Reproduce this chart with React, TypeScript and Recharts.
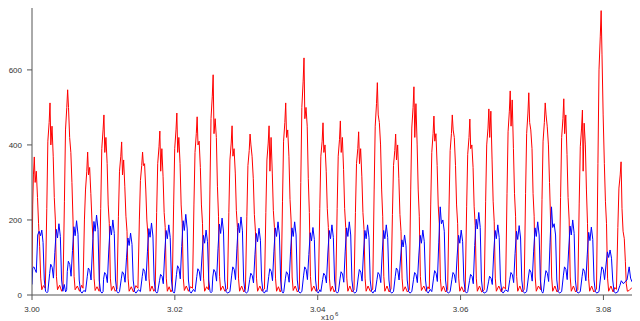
import { LineChart, Line, XAxis, YAxis, Label } from 'recharts';

// time in units of 10^3 (axis shows x10^6), value
const redPoints: [number, number][] = [
  [3000.0, 60], [3000.1, 240], [3000.2, 320], [3000.32, 368], [3000.44, 300], [3000.6, 330], [3000.77, 260], [3000.92, 190], [3001.07, 130], [3001.22, 45], [3001.37, 14], [3001.6, 25],
  [3001.87, 18], [3002.07, 230], [3002.22, 410], [3002.4, 460], [3002.52, 512], [3002.64, 400], [3002.8, 450], [3002.97, 370], [3003.12, 260], [3003.27, 200], [3003.42, 50], [3003.57, 14], [3003.87, 26], [3004.15, 10],
  [3004.34, 20], [3004.54, 250], [3004.69, 440], [3004.87, 500], [3004.99, 547], [3005.11, 500], [3005.27, 420], [3005.44, 380], [3005.59, 300], [3005.74, 200], [3005.89, 50], [3006.04, 14], [3006.35, 24], [3006.65, 10], [3006.95, 26],
  [3007.14, 18], [3007.34, 200], [3007.49, 280], [3007.67, 330], [3007.79, 381], [3007.91, 320], [3008.07, 340], [3008.24, 270], [3008.39, 200], [3008.54, 150], [3008.69, 45], [3008.84, 12], [3009.1, 22], [3009.4, 10],
  [3009.42, 18], [3009.62, 230], [3009.77, 390], [3009.95, 440], [3010.07, 480], [3010.19, 380], [3010.35, 420], [3010.52, 350], [3010.67, 240], [3010.82, 190], [3010.97, 45], [3011.12, 12], [3011.4, 24], [3011.65, 10],
  [3011.9, 16], [3012.1, 210], [3012.25, 330], [3012.43, 370], [3012.55, 408], [3012.67, 320], [3012.83, 360], [3012.99, 290], [3013.15, 210], [3013.3, 170], [3013.45, 45], [3013.6, 10], [3013.9, 22], [3014.2, 8], [3014.55, 25],
  [3014.83, 18], [3015.03, 200], [3015.18, 305], [3015.36, 345], [3015.48, 381], [3015.6, 345], [3015.76, 350], [3015.93, 280], [3016.08, 200], [3016.23, 160], [3016.38, 45], [3016.53, 10], [3016.8, 24], [3017.05, 10],
  [3017.25, 16], [3017.45, 220], [3017.6, 350], [3017.78, 395], [3017.9, 437], [3018.02, 330], [3018.18, 390], [3018.35, 315], [3018.5, 220], [3018.65, 180], [3018.8, 45], [3018.95, 10], [3019.2, 22], [3019.45, 8],
  [3019.63, 15], [3019.83, 240], [3019.98, 390], [3020.16, 440], [3020.28, 485], [3020.4, 380], [3020.56, 420], [3020.73, 350], [3020.88, 240], [3021.03, 190], [3021.18, 45], [3021.33, 12], [3021.6, 24], [3021.9, 10], [3022.2, 22],
  [3022.47, 18], [3022.67, 240], [3022.82, 380], [3023.0, 430], [3023.12, 475], [3023.24, 400], [3023.4, 410], [3023.57, 340], [3023.72, 240], [3023.87, 190], [3024.02, 45], [3024.17, 10], [3024.45, 22],
  [3024.71, 14], [3024.91, 280], [3025.06, 470], [3025.24, 530], [3025.36, 587], [3025.48, 430], [3025.64, 470], [3025.81, 420], [3025.96, 290], [3026.11, 210], [3026.26, 50], [3026.41, 12], [3026.7, 24], [3027.0, 10],
  [3027.36, 16], [3027.56, 220], [3027.71, 360], [3027.89, 405], [3028.01, 451], [3028.13, 370], [3028.29, 390], [3028.46, 325], [3028.61, 225], [3028.76, 180], [3028.91, 45], [3029.06, 10], [3029.35, 24], [3029.65, 8],
  [3029.88, 15], [3030.08, 210], [3030.23, 345], [3030.41, 385], [3030.53, 429], [3030.65, 400], [3030.81, 370], [3030.98, 310], [3031.13, 215], [3031.28, 170], [3031.43, 45], [3031.58, 10], [3031.9, 24], [3032.2, 10],
  [3032.54, 16], [3032.74, 220], [3032.89, 360], [3033.07, 405], [3033.19, 451], [3033.31, 330], [3033.47, 420], [3033.64, 325], [3033.79, 225], [3033.94, 180], [3034.09, 45], [3034.24, 10], [3034.5, 22], [3034.75, 8],
  [3034.87, 14], [3035.07, 250], [3035.22, 410], [3035.4, 460], [3035.52, 512], [3035.64, 420], [3035.8, 440], [3035.97, 370], [3036.12, 255], [3036.27, 200], [3036.42, 48], [3036.57, 12], [3036.85, 24], [3037.15, 8],
  [3037.43, 16], [3037.63, 300], [3037.78, 500], [3037.96, 570], [3038.08, 632], [3038.2, 470], [3038.36, 500], [3038.53, 450], [3038.68, 310], [3038.83, 220], [3038.98, 50], [3039.13, 10], [3039.45, 24], [3039.75, 10],
  [3040.09, 15], [3040.29, 230], [3040.44, 370], [3040.62, 410], [3040.74, 459], [3040.86, 380], [3041.02, 400], [3041.19, 330], [3041.34, 230], [3041.49, 180], [3041.64, 45], [3041.79, 10], [3042.05, 24], [3042.3, 8],
  [3042.52, 16], [3042.72, 230], [3042.87, 370], [3043.05, 415], [3043.17, 464], [3043.29, 380], [3043.45, 420], [3043.62, 335], [3043.77, 230], [3043.92, 180], [3044.07, 45], [3044.22, 10], [3044.5, 24], [3044.8, 8],
  [3045.08, 14], [3045.28, 220], [3045.43, 350], [3045.61, 390], [3045.73, 435], [3045.85, 350], [3046.01, 390], [3046.18, 315], [3046.33, 220], [3046.48, 175], [3046.63, 45], [3046.78, 10], [3047.05, 24], [3047.35, 10],
  [3047.7, 15], [3047.9, 280], [3048.05, 450], [3048.23, 510], [3048.35, 566], [3048.47, 480], [3048.63, 460], [3048.8, 400], [3048.95, 280], [3049.1, 210], [3049.25, 50], [3049.4, 10], [3049.7, 24], [3050.0, 8],
  [3050.26, 16], [3050.46, 215], [3050.61, 345], [3050.79, 385], [3050.91, 429], [3051.03, 360], [3051.19, 400], [3051.36, 310], [3051.51, 215], [3051.66, 170], [3051.81, 45], [3051.96, 10], [3052.25, 22], [3052.55, 8],
  [3052.82, 14], [3053.02, 280], [3053.17, 445], [3053.35, 500], [3053.47, 555], [3053.59, 420], [3053.75, 510], [3053.92, 400], [3054.07, 280], [3054.22, 210], [3054.37, 50], [3054.52, 12], [3054.85, 24], [3055.15, 10], [3055.45, 22],
  [3055.62, 16], [3055.82, 240], [3055.97, 380], [3056.15, 430], [3056.27, 477], [3056.39, 410], [3056.55, 430], [3056.72, 345], [3056.87, 240], [3057.02, 190], [3057.17, 45], [3057.32, 10], [3057.6, 24], [3057.9, 8],
  [3058.19, 14], [3058.39, 240], [3058.54, 385], [3058.72, 430], [3058.84, 480], [3058.96, 440], [3059.12, 420], [3059.29, 345], [3059.44, 240], [3059.59, 190], [3059.74, 45], [3059.89, 10], [3060.15, 22], [3060.45, 8],
  [3060.65, 15], [3060.85, 235], [3061.0, 375], [3061.18, 420], [3061.3, 469], [3061.42, 390], [3061.58, 400], [3061.75, 340], [3061.9, 235], [3062.05, 185], [3062.2, 45], [3062.35, 10], [3062.65, 24], [3062.95, 8],
  [3063.31, 14], [3063.51, 250], [3063.66, 400], [3063.84, 445], [3063.96, 496], [3064.08, 420], [3064.24, 490], [3064.41, 360], [3064.56, 250], [3064.71, 195], [3064.86, 45], [3065.01, 10], [3065.35, 24], [3065.7, 8], [3066.0, 22],
  [3066.3, 16], [3066.5, 270], [3066.65, 435], [3066.83, 490], [3066.95, 544], [3067.07, 450], [3067.23, 520], [3067.4, 390], [3067.55, 270], [3067.7, 210], [3067.85, 50], [3068.0, 10], [3068.3, 24], [3068.6, 8],
  [3068.9, 15], [3069.1, 270], [3069.25, 430], [3069.43, 485], [3069.55, 539], [3069.67, 460], [3069.83, 440], [3070.0, 390], [3070.15, 270], [3070.3, 210], [3070.45, 48], [3070.6, 10], [3070.9, 24],
  [3071.2, 14], [3071.4, 255], [3071.55, 410], [3071.73, 460], [3071.85, 512], [3071.97, 480], [3072.13, 450], [3072.3, 400], [3072.45, 300], [3072.6, 200], [3072.75, 48], [3072.9, 10], [3073.2, 24], [3073.5, 8],
  [3073.8, 15], [3074.0, 260], [3074.15, 420], [3074.33, 470], [3074.45, 523], [3074.57, 430], [3074.73, 480], [3074.9, 375], [3075.05, 260], [3075.2, 200], [3075.35, 48], [3075.5, 10], [3075.8, 24], [3076.1, 8],
  [3076.41, 14], [3076.61, 245], [3076.76, 395], [3076.94, 445], [3077.06, 493], [3077.16, 330], [3077.3, 458], [3077.47, 400], [3077.62, 280], [3077.77, 190], [3077.92, 45], [3078.07, 10], [3078.35, 24], [3078.65, 8],
  [3079.03, 16], [3079.23, 350], [3079.38, 600], [3079.56, 690], [3079.68, 758], [3079.8, 640], [3079.96, 480], [3080.13, 350], [3080.28, 250], [3080.43, 190], [3080.58, 45], [3080.73, 10], [3081.05, 24], [3081.35, 8], [3081.6, 20],
  [3081.82, 15], [3082.02, 180], [3082.17, 285], [3082.35, 320], [3082.47, 355], [3082.6, 230], [3082.75, 170], [3082.92, 150], [3083.07, 90], [3083.2, 30], [3083.35, 10], [3083.6, 12], [3084.0, 20],
];

const bluePoints: [number, number][] = [
  [3000.0, 28], [3000.1, 72], [3000.27, 75], [3000.42, 68], [3000.6, 60], [3000.8, 160], [3001.0, 170], [3001.2, 158], [3001.37, 173], [3001.55, 140], [3001.72, 40], [3001.9, 10], [3002.1, 6],
  [3002.22, 9], [3002.47, 57], [3002.62, 82], [3002.82, 74], [3003.0, 45], [3003.2, 114], [3003.4, 175], [3003.57, 152], [3003.77, 190], [3003.97, 156], [3004.14, 40], [3004.32, 10], [3004.52, 28], [3004.7, 8],
  [3004.85, 14], [3004.94, 63], [3005.09, 90], [3005.29, 81], [3005.47, 50], [3005.67, 119], [3005.87, 182], [3006.04, 158], [3006.24, 198], [3006.44, 162], [3006.61, 40], [3006.79, 10], [3007.0, 5], [3007.25, 12],
  [3007.49, 9], [3007.74, 50], [3007.89, 72], [3008.09, 65], [3008.27, 40], [3008.47, 128], [3008.67, 196], [3008.84, 170], [3009.04, 213], [3009.24, 175], [3009.41, 40], [3009.59, 10], [3009.79, 5],
  [3009.95, 9], [3010.02, 42], [3010.17, 60], [3010.37, 54], [3010.55, 33], [3010.75, 120], [3010.95, 184], [3011.12, 160], [3011.32, 200], [3011.52, 164], [3011.69, 40], [3011.87, 10], [3012.07, 5],
  [3012.25, 9], [3012.5, 43], [3012.65, 62], [3012.85, 56], [3013.03, 34], [3013.23, 99], [3013.43, 152], [3013.6, 132], [3013.8, 165], [3014.0, 135], [3014.17, 40], [3014.35, 10], [3014.55, 5], [3014.9, 14],
  [3015.18, 9], [3015.43, 49], [3015.58, 70], [3015.78, 63], [3015.96, 38], [3016.16, 115], [3016.36, 177], [3016.53, 154], [3016.73, 192], [3016.93, 157], [3017.1, 40], [3017.28, 10], [3017.48, 5],
  [3017.6, 9], [3017.85, 38], [3018.0, 55], [3018.2, 50], [3018.38, 30], [3018.58, 112], [3018.78, 172], [3018.95, 150], [3019.15, 187], [3019.35, 153], [3019.52, 40], [3019.7, 10], [3019.9, 5],
  [3019.98, 9], [3020.23, 55], [3020.38, 78], [3020.58, 70], [3020.76, 43], [3020.96, 129], [3021.16, 198], [3021.33, 172], [3021.53, 215], [3021.73, 176], [3021.9, 40], [3022.08, 10], [3022.28, 5], [3022.6, 15],
  [3022.82, 9], [3023.07, 49], [3023.22, 70], [3023.42, 63], [3023.6, 38], [3023.8, 104], [3024.0, 159], [3024.17, 138], [3024.37, 173], [3024.57, 142], [3024.74, 40], [3024.92, 10], [3025.06, 6],
  [3025.2, 9], [3025.31, 48], [3025.46, 68], [3025.66, 61], [3025.84, 37], [3026.04, 123], [3026.24, 189], [3026.41, 164], [3026.61, 205], [3026.81, 168], [3026.98, 40], [3027.16, 10], [3027.36, 5],
  [3027.71, 9], [3027.96, 53], [3028.11, 75], [3028.31, 68], [3028.49, 41], [3028.69, 125], [3028.89, 191], [3029.06, 166], [3029.26, 208], [3029.46, 171], [3029.63, 40], [3029.81, 10], [3030.01, 5],
  [3030.23, 9], [3030.48, 41], [3030.63, 58], [3030.83, 52], [3031.01, 32], [3031.21, 107], [3031.41, 164], [3031.58, 142], [3031.78, 178], [3031.98, 146], [3032.15, 40], [3032.33, 10], [3032.53, 5], [3032.75, 12],
  [3032.89, 9], [3033.14, 49], [3033.29, 70], [3033.49, 63], [3033.67, 38], [3033.87, 117], [3034.07, 179], [3034.24, 156], [3034.44, 195], [3034.64, 160], [3034.81, 40], [3034.99, 10], [3035.15, 5],
  [3035.25, 9], [3035.47, 43], [3035.62, 62], [3035.82, 56], [3036.0, 34], [3036.2, 117], [3036.4, 179], [3036.57, 156], [3036.77, 195], [3036.97, 160], [3037.14, 40], [3037.32, 10], [3037.52, 5],
  [3037.78, 9], [3038.03, 53], [3038.18, 75], [3038.38, 68], [3038.56, 41], [3038.76, 108], [3038.96, 166], [3039.13, 144], [3039.33, 180], [3039.53, 148], [3039.7, 40], [3039.88, 10], [3040.08, 5], [3040.3, 14],
  [3040.44, 9], [3040.69, 41], [3040.84, 58], [3041.04, 52], [3041.22, 32], [3041.42, 112], [3041.62, 172], [3041.79, 150], [3041.99, 187], [3042.19, 153], [3042.36, 40], [3042.54, 10], [3042.74, 5],
  [3042.9, 9], [3043.12, 43], [3043.27, 62], [3043.47, 56], [3043.65, 34], [3043.85, 117], [3044.05, 179], [3044.22, 156], [3044.42, 195], [3044.62, 160], [3044.79, 40], [3044.97, 10], [3045.17, 5],
  [3045.43, 9], [3045.68, 48], [3045.83, 68], [3046.03, 61], [3046.21, 37], [3046.41, 112], [3046.61, 172], [3046.78, 150], [3046.98, 187], [3047.18, 153], [3047.35, 40], [3047.53, 10], [3047.73, 5], [3047.95, 12],
  [3048.05, 9], [3048.3, 42], [3048.45, 60], [3048.65, 54], [3048.83, 33], [3049.03, 112], [3049.23, 172], [3049.4, 150], [3049.6, 187], [3049.8, 153], [3049.97, 40], [3050.15, 10], [3050.35, 5],
  [3050.61, 9], [3050.86, 50], [3051.01, 72], [3051.21, 65], [3051.39, 40], [3051.59, 96], [3051.79, 147], [3051.96, 128], [3052.16, 160], [3052.36, 131], [3052.53, 40], [3052.71, 10], [3052.91, 5],
  [3053.17, 9], [3053.42, 42], [3053.57, 60], [3053.77, 54], [3053.95, 33], [3054.15, 104], [3054.35, 159], [3054.52, 138], [3054.72, 173], [3054.92, 142], [3055.09, 40], [3055.27, 10], [3055.47, 5], [3055.75, 15],
  [3055.97, 9], [3056.22, 45], [3056.37, 65], [3056.57, 58], [3056.75, 36], [3056.95, 141], [3057.15, 235], [3057.32, 190], [3057.52, 200], [3057.72, 170], [3057.89, 40], [3058.07, 10], [3058.27, 5],
  [3058.54, 9], [3058.79, 42], [3058.94, 60], [3059.14, 54], [3059.32, 33], [3059.52, 104], [3059.72, 159], [3059.89, 138], [3060.09, 173], [3060.29, 142], [3060.46, 40], [3060.64, 10], [3060.84, 5],
  [3061.0, 9], [3061.25, 38], [3061.4, 55], [3061.6, 50], [3061.78, 30], [3061.98, 132], [3062.18, 202], [3062.35, 176], [3062.55, 220], [3062.75, 180], [3062.92, 40], [3063.1, 10], [3063.3, 5],
  [3063.66, 9], [3063.91, 35], [3064.06, 50], [3064.26, 45], [3064.44, 28], [3064.64, 112], [3064.84, 172], [3065.01, 150], [3065.21, 187], [3065.41, 153], [3065.58, 40], [3065.76, 10], [3065.96, 5], [3066.3, 14],
  [3066.65, 9], [3066.9, 42], [3067.05, 60], [3067.25, 54], [3067.43, 33], [3067.63, 111], [3067.83, 170], [3068.0, 148], [3068.2, 185], [3068.4, 152], [3068.57, 40], [3068.75, 10], [3068.95, 5],
  [3069.25, 9], [3069.5, 48], [3069.65, 68], [3069.85, 61], [3070.03, 37], [3070.23, 117], [3070.43, 179], [3070.6, 156], [3070.8, 195], [3071.0, 160], [3071.17, 40], [3071.35, 10], [3071.5, 5],
  [3071.6, 9], [3071.8, 45], [3071.95, 65], [3072.15, 58], [3072.33, 36], [3072.53, 141], [3072.73, 235], [3072.9, 180], [3073.1, 190], [3073.3, 160], [3073.47, 40], [3073.65, 10], [3073.85, 5],
  [3074.15, 9], [3074.4, 53], [3074.55, 75], [3074.75, 68], [3074.93, 41], [3075.13, 120], [3075.33, 184], [3075.5, 160], [3075.7, 200], [3075.9, 164], [3076.07, 40], [3076.25, 10], [3076.45, 5],
  [3076.76, 9], [3077.01, 49], [3077.16, 70], [3077.36, 63], [3077.54, 38], [3077.74, 109], [3077.94, 167], [3078.11, 145], [3078.31, 181], [3078.51, 148], [3078.68, 40], [3078.86, 10], [3079.06, 5],
  [3079.38, 9], [3079.63, 53], [3079.78, 75], [3079.98, 68], [3080.16, 41], [3080.36, 80], [3080.56, 115], [3080.73, 100], [3080.93, 120], [3081.13, 98], [3081.3, 40], [3081.48, 10], [3081.68, 5],
  [3082.0, 8], [3082.3, 25], [3082.5, 38], [3082.8, 30], [3083.0, 35], [3083.3, 40], [3083.6, 75], [3083.8, 45], [3084.0, 35],
];

const xTicks = [3000, 3020, 3040, 3060, 3080];
const yTicks = [0, 200, 400, 600];

const red = redPoints.map(([t, v]) => ({ t, v }));
const blue = bluePoints.map(([t, v]) => ({ t, v }));

const axisColor = '#555555';
const tickStyle = { fill: '#333333', fontSize: 8, fontFamily: 'Liberation Sans, Arial, sans-serif' };

// "x10^6" exponent note under the x axis
const ExponentLabel = (props: any) => {
  const vb = props.viewBox || { x: 0, y: 0, width: 0, height: 0 };
  const cx = vb.x + vb.width / 2 - 11;
  const by = vb.y + vb.height - 1;
  return (
    <text x={cx} y={by} fill="#333333" fontSize={8} fontFamily="Liberation Sans, Arial, sans-serif">
      x10
      <tspan dx={1} dy={-4} fontSize={6}>6</tspan>
    </text>
  );
};

export default function App() {
  return (
    <div style={{ position: 'absolute', left: 0, top: 0, width: 640, height: 321, background: '#fff' }}>
      <LineChart width={640} height={321} margin={{ top: 8, right: 8, bottom: 0, left: 0 }}>
        <XAxis
          dataKey="t"
          type="number"
          domain={[3000, 3084]}
          ticks={xTicks}
          allowDataOverflow
          tickFormatter={(v: number) => (v / 1000).toFixed(2)}
          tick={tickStyle}
          tickSize={5}
          tickMargin={6}
          height={26}
          stroke={axisColor}
          tickLine={{ stroke: axisColor }}
        >
          <Label content={ExponentLabel} />
        </XAxis>
        <YAxis
          type="number"
          domain={[0, 765]}
          ticks={yTicks}
          allowDataOverflow
          tick={tickStyle}
          tickSize={5}
          tickMargin={5}
          width={32}
          stroke={axisColor}
          tickLine={{ stroke: axisColor }}
        />
        <Line data={red} dataKey="v" type="linear" stroke="#ff0000" strokeWidth={1} dot={false} isAnimationActive={false} />
        <Line data={blue} dataKey="v" type="linear" stroke="#0000ff" strokeWidth={1} dot={false} isAnimationActive={false} />
      </LineChart>
    </div>
  );
}
